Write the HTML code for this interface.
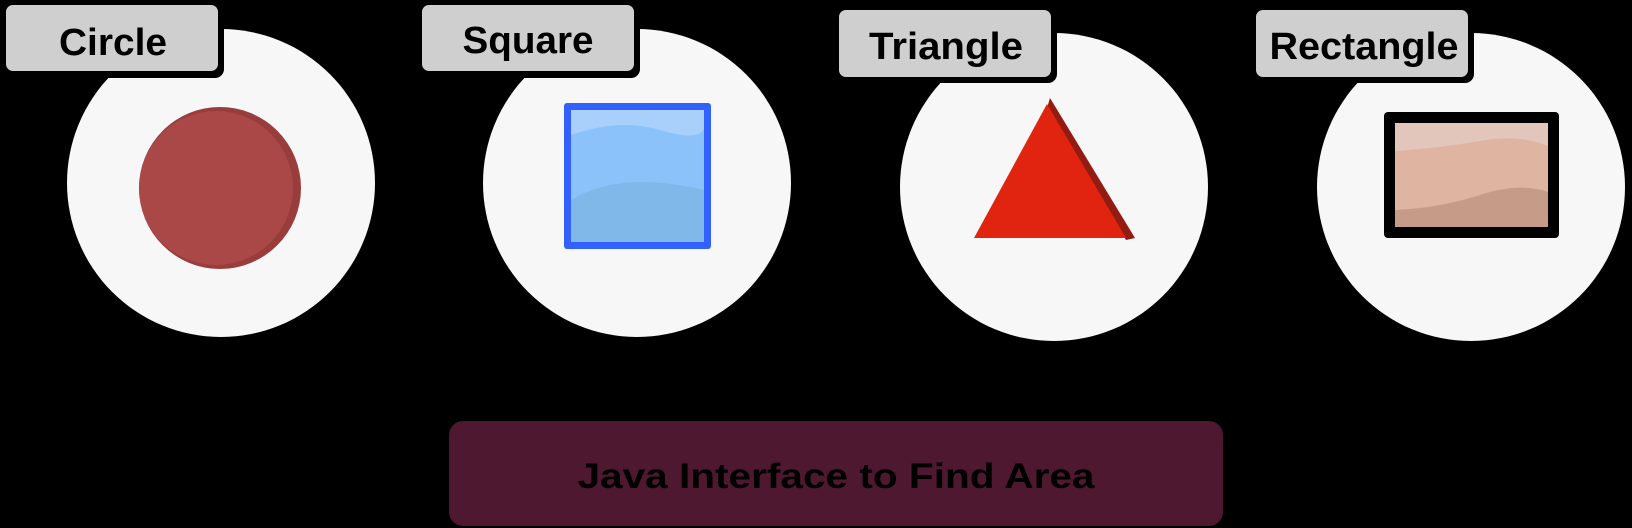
<!DOCTYPE html>
<html><head><meta charset="utf-8"><style>
html,body{margin:0;padding:0;background:#000;width:1632px;height:528px;overflow:hidden}
text{font-family:"Liberation Sans",sans-serif;font-weight:bold;fill:#000}
</style></head><body>
<svg width="1632" height="528" viewBox="0 0 1632 528" xmlns="http://www.w3.org/2000/svg">
<rect width="1632" height="528" fill="#000"/>
<circle cx="221" cy="183" r="154" fill="#f7f7f7"/>
<circle cx="637" cy="183" r="154" fill="#f7f7f7"/>
<circle cx="1054" cy="187" r="154" fill="#f7f7f7"/>
<circle cx="1471" cy="187" r="154" fill="#f7f7f7"/>
<rect x="4" y="4" width="220" height="74" rx="9" fill="#000"/>
<rect x="6" y="5" width="212" height="66" rx="7" fill="#cfcfcf"/>
<text x="113" y="55" font-size="38" text-anchor="middle" textLength="108" lengthAdjust="spacingAndGlyphs">Circle</text>
<rect x="420" y="4" width="220" height="74" rx="9" fill="#000"/>
<rect x="422" y="5" width="212" height="66" rx="7" fill="#cfcfcf"/>
<text x="528" y="53" font-size="38" text-anchor="middle" textLength="131" lengthAdjust="spacingAndGlyphs">Square</text>
<rect x="837" y="9" width="220" height="74" rx="9" fill="#000"/>
<rect x="839" y="10" width="212" height="67" rx="7" fill="#cfcfcf"/>
<text x="946" y="59" font-size="38" text-anchor="middle" textLength="154" lengthAdjust="spacingAndGlyphs">Triangle</text>
<rect x="1254" y="9" width="220" height="74" rx="9" fill="#000"/>
<rect x="1256" y="10" width="212" height="67" rx="7" fill="#cfcfcf"/>
<text x="1364" y="59" font-size="38" text-anchor="middle" textLength="189" lengthAdjust="spacingAndGlyphs">Rectangle</text>
<circle cx="220" cy="188" r="81" fill="#983c3c"/>
<circle cx="216" cy="188" r="77" fill="#aa4848"/>
<rect x="564" y="103" width="147" height="146" rx="3" fill="#3361ff"/>
<rect x="571" y="110" width="133" height="132" fill="#a8d0fb"/>
<path d="M571 135 Q620 118 660 130 T704 128 V242 H571Z" fill="#8cc2fa"/>
<path d="M571 200 Q620 170 704 190 V242 H571Z" fill="#80b8ea"/>
<polygon points="1050,98 1135,238 1126,240 1047,108" fill="#931b12"/>
<polygon points="1047,104 1126,238 974,238" fill="#e0240f"/>
<rect x="1384" y="112" width="175" height="126" rx="4" fill="#000"/>
<rect x="1395" y="123" width="153" height="104" fill="#e2c6bb"/>
<path d="M1395 151 Q1440 148 1480 141 T1548 146 V227 H1395Z" fill="#dfb5a1"/>
<path d="M1395 210 Q1440 208 1480 195 T1548 192 V227 H1395Z" fill="#c69c88"/>
<rect x="449" y="421" width="774" height="105" rx="14" fill="#4e1830"/>
<text x="836" y="488" font-size="35" text-anchor="middle" textLength="517" lengthAdjust="spacingAndGlyphs" fill="#050505">Java Interface to Find Area</text>
</svg>
</body></html>
